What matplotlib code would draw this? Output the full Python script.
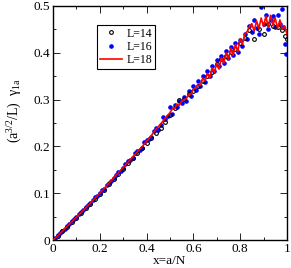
import numpy as np
import matplotlib.pyplot as plt
from matplotlib.ticker import MultipleLocator

plt.rcParams['font.family'] = ['Liberation Serif', 'DejaVu Serif']
plt.rcParams['mathtext.fontset'] = 'custom'
plt.rcParams['mathtext.rm'] = 'Liberation Serif'
plt.rcParams['mathtext.it'] = 'Liberation Serif'

# L=14 (black open circles)
x14 = [0.02, 0.04, 0.06, 0.08, 0.10, 0.12, 0.14, 0.16, 0.18, 0.20, 0.22, 0.24, 0.26, 0.28,
       0.30, 0.32, 0.34, 0.36, 0.38, 0.40, 0.42, 0.44, 0.46, 0.48, 0.50, 0.52, 0.54, 0.56,
       0.58, 0.60, 0.62, 0.64, 0.66, 0.68, 0.70, 0.72, 0.74, 0.76, 0.78, 0.80, 0.82, 0.84,
       0.86, 0.88, 0.90, 0.92, 0.94, 0.96, 0.98, 0.99, 1.00]
y14 = [0.009, 0.019, 0.029, 0.039, 0.048, 0.058, 0.068, 0.078, 0.088, 0.098, 0.108, 0.119,
       0.130, 0.141, 0.152, 0.165, 0.176, 0.186, 0.196, 0.208, 0.218, 0.228, 0.240, 0.252,
       0.268, 0.282, 0.300, 0.302, 0.312, 0.318, 0.330, 0.340, 0.350, 0.358, 0.375, 0.386,
       0.392, 0.402, 0.408, 0.420, 0.432, 0.448, 0.430, 0.450, 0.440, 0.462, 0.458, 0.455,
       0.448, 0.435, 0.430]

# L=16 (blue filled points)
x16 = [0.01, 0.02, 0.03, 0.04, 0.05, 0.06, 0.07, 0.08, 0.09, 0.10, 0.11, 0.12, 0.13, 0.14,
       0.15, 0.16, 0.17, 0.18, 0.19, 0.20, 0.21, 0.22, 0.23, 0.24, 0.25, 0.26, 0.27, 0.28,
       0.29, 0.30, 0.31, 0.32, 0.33, 0.34, 0.35, 0.36, 0.37, 0.38, 0.39, 0.40, 0.41, 0.42,
       0.43, 0.44, 0.45, 0.46, 0.47, 0.48, 0.49, 0.50, 0.51, 0.52, 0.53, 0.54, 0.55, 0.56,
       0.57, 0.58, 0.59, 0.60, 0.61, 0.62, 0.63, 0.64, 0.65, 0.66, 0.67, 0.68, 0.69, 0.70,
       0.71, 0.72, 0.73, 0.74, 0.75, 0.76, 0.77, 0.78, 0.79, 0.80, 0.81, 0.82, 0.83, 0.84,
       0.85, 0.86, 0.87, 0.88, 0.89, 0.90, 0.91, 0.92, 0.93, 0.94, 0.95, 0.96, 0.97, 0.98,
       0.985, 0.99, 0.995]
y16 = [0.004, 0.010, 0.015, 0.020, 0.024, 0.030, 0.034, 0.040, 0.045, 0.050, 0.055, 0.060,
       0.064, 0.070, 0.075, 0.080, 0.085, 0.091, 0.095, 0.101, 0.107, 0.110, 0.118, 0.123,
       0.127, 0.132, 0.140, 0.145, 0.148, 0.153, 0.162, 0.168, 0.170, 0.175, 0.186, 0.190,
       0.192, 0.197, 0.210, 0.214, 0.216, 0.220, 0.232, 0.240, 0.236, 0.245, 0.262, 0.258,
       0.264, 0.285, 0.270, 0.288, 0.285, 0.298, 0.292, 0.306, 0.298, 0.318, 0.308, 0.328,
       0.320, 0.340, 0.328, 0.350, 0.338, 0.360, 0.350, 0.372, 0.360, 0.384, 0.372, 0.392,
       0.378, 0.404, 0.388, 0.412, 0.395, 0.420, 0.402, 0.428, 0.415, 0.440, 0.430, 0.458,
       0.445, 0.470, 0.452, 0.440, 0.498, 0.462, 0.480, 0.450, 0.470, 0.478, 0.455, 0.480,
       0.462, 0.493, 0.455, 0.418, 0.398]

# L=18 (red line)
x18 = [0.00, 0.02, 0.04, 0.06, 0.08, 0.10, 0.12, 0.14, 0.16, 0.18, 0.20, 0.22, 0.24, 0.26,
       0.28, 0.30, 0.32, 0.34, 0.36, 0.38, 0.40, 0.42, 0.44, 0.46, 0.48, 0.50, 0.51, 0.52,
       0.53, 0.54, 0.55, 0.56, 0.57, 0.58, 0.59, 0.60, 0.61, 0.62, 0.63, 0.64, 0.65, 0.66,
       0.67, 0.68, 0.69, 0.70, 0.71, 0.72, 0.73, 0.74, 0.75, 0.76, 0.77, 0.78, 0.79, 0.80,
       0.81, 0.82, 0.83, 0.84, 0.85, 0.86, 0.87, 0.88, 0.89, 0.90, 0.91, 0.92, 0.93, 0.94,
       0.95, 0.96, 0.97, 0.98, 0.99, 1.00]
y18 = [0.000, 0.009, 0.019, 0.029, 0.039, 0.049, 0.059, 0.069, 0.079, 0.090, 0.100, 0.111,
       0.122, 0.133, 0.144, 0.155, 0.166, 0.177, 0.188, 0.199, 0.211, 0.223, 0.236, 0.248,
       0.260, 0.272, 0.280, 0.281, 0.290, 0.288, 0.297, 0.300, 0.302, 0.311, 0.312, 0.322,
       0.326, 0.331, 0.330, 0.346, 0.340, 0.356, 0.346, 0.368, 0.358, 0.378, 0.365, 0.390,
       0.378, 0.400, 0.386, 0.410, 0.394, 0.418, 0.402, 0.430, 0.418, 0.440, 0.445, 0.456,
       0.462, 0.446, 0.468, 0.452, 0.474, 0.456, 0.478, 0.454, 0.480, 0.458, 0.474, 0.452,
       0.470, 0.450, 0.457, 0.440]

fig = plt.figure(figsize=(2.91, 2.68), dpi=100)
ax = fig.add_axes([0.182, 0.104, 0.804, 0.874])

ax.plot(x16, y16, 'o', ms=2.3, color='blue', mec='blue', label='L=16', zorder=2)
ax.plot(x14, y14, 'o', ms=2.7, mfc='none', mec='black', mew=0.8, label='L=14', zorder=3)
ax.plot(x18, y18, '-', lw=1.2, color='red', label='L=18', zorder=4)

ax.set_xlim(0, 1)
ax.set_ylim(0, 0.5)
ax.set_xticks([0, 0.2, 0.4, 0.6, 0.8, 1.0])
ax.set_xticklabels(['0', '0.2', '0.4', '0.6', '0.8', '1'])
ax.set_yticks([0, 0.1, 0.2, 0.3, 0.4, 0.5])
ax.set_yticklabels(['0', '0.1', '0.2', '0.3', '0.4', '0.5'])
ax.xaxis.set_minor_locator(MultipleLocator(0.1))
ax.yaxis.set_minor_locator(MultipleLocator(0.05))
ax.tick_params(which='both', direction='in', top=True, right=True, labelsize=9.5, pad=2)
ax.tick_params(which='major', length=5, width=0.6)
ax.tick_params(which='minor', length=2.5, width=0.6)
for s in ax.spines.values():
    s.set_linewidth(1.0)

ax.set_xlabel('x=a/N', fontsize=9.5, labelpad=0)
ax.set_ylabel(r'(a$^{3/2}$/L)  $\gamma_{1a}$', fontsize=10)
ax.yaxis.set_label_coords(-0.125, 0.555)

h, l = ax.get_legend_handles_labels()
order = [1, 0, 2]
leg = ax.legend([h[i] for i in order], [l[i] for i in order], loc='upper left',
                bbox_to_anchor=(0.19, 0.92), borderaxespad=0, fontsize=8.5,
                fancybox=False, edgecolor='black', framealpha=1,
                handlelength=1.8, handletextpad=0.4, borderpad=0.25, labelspacing=0.1)
leg.get_frame().set_linewidth(0.8)

fig.savefig('out.png', dpi=100)
